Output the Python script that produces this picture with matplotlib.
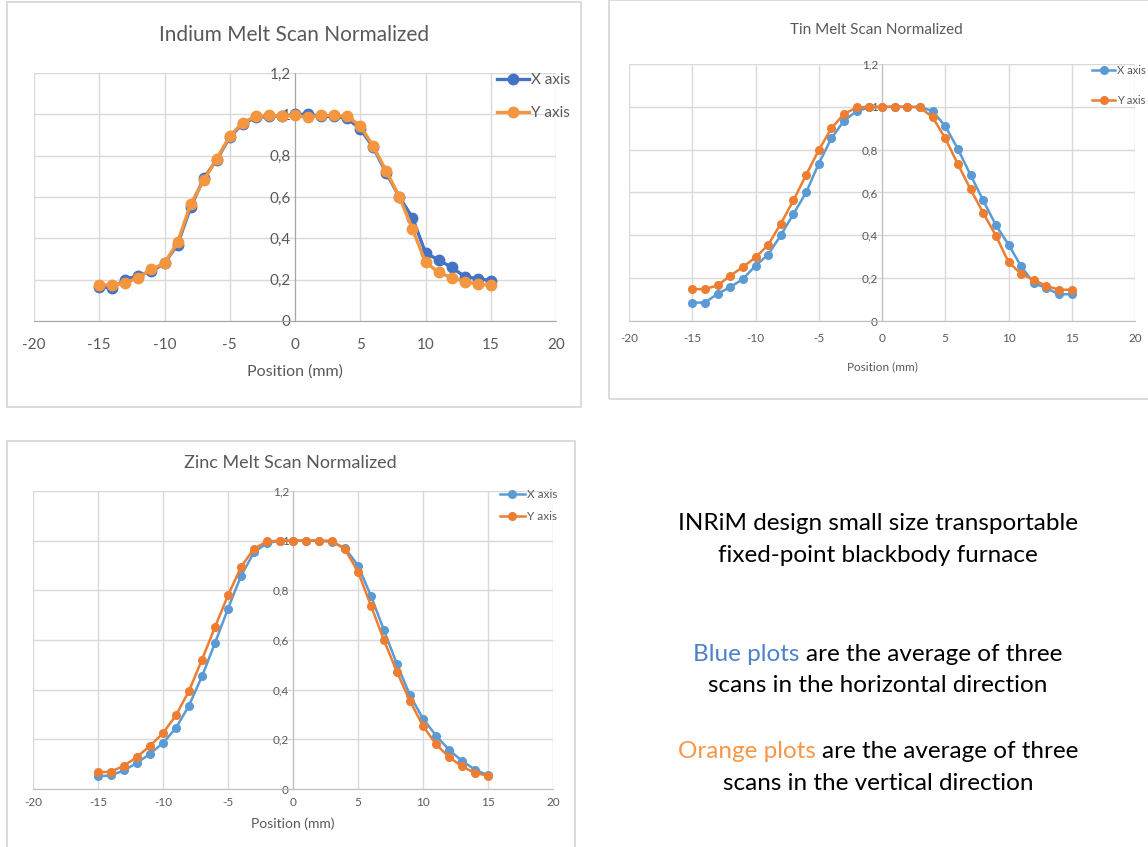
import matplotlib
matplotlib.use("Agg")
import matplotlib.pyplot as plt
from matplotlib.patches import Rectangle
from matplotlib.ticker import FuncFormatter

plt.rcParams['font.family'] = ['Lato', 'DejaVu Sans']
plt.rcParams['axes.unicode_minus'] = False

# scan positions (mm)
positions = list(range(-15, 16))

indium_x = [0.165, 0.16, 0.20, 0.22, 0.24, 0.28, 0.37, 0.55, 0.69, 0.78, 0.89, 0.955, 0.985, 0.99, 0.99,
            1.0, 1.0, 0.99, 0.99, 0.98, 0.93, 0.84, 0.715, 0.60, 0.50, 0.33, 0.295, 0.26, 0.215, 0.205, 0.195]
indium_y = [0.175, 0.173, 0.185, 0.21, 0.25, 0.28, 0.38, 0.565, 0.68, 0.785, 0.895, 0.96, 0.99, 0.995, 0.99,
            0.995, 0.985, 0.995, 0.995, 0.99, 0.945, 0.845, 0.725, 0.60, 0.445, 0.285, 0.235, 0.21, 0.19, 0.178, 0.173]

tin_x = [0.086, 0.086, 0.127, 0.158, 0.196, 0.258, 0.31, 0.40, 0.50, 0.60, 0.735, 0.853, 0.935, 0.98, 0.997,
         1.0, 1.0, 1.0, 1.0, 0.98, 0.91, 0.803, 0.682, 0.563, 0.448, 0.357, 0.255, 0.177, 0.153, 0.125, 0.125]
tin_y = [0.149, 0.149, 0.166, 0.211, 0.252, 0.297, 0.355, 0.455, 0.563, 0.682, 0.798, 0.90, 0.967, 0.997, 1.0,
         1.0, 1.0, 1.0, 0.997, 0.952, 0.853, 0.732, 0.615, 0.505, 0.399, 0.275, 0.22, 0.192, 0.164, 0.146, 0.146]

zinc_x = [0.051, 0.055, 0.075, 0.105, 0.142, 0.185, 0.246, 0.336, 0.454, 0.588, 0.726, 0.858, 0.953, 0.99, 1.0,
          1.0, 1.0, 1.0, 0.995, 0.97, 0.90, 0.777, 0.639, 0.502, 0.377, 0.283, 0.215, 0.158, 0.113, 0.078, 0.055]
zinc_y = [0.067, 0.07, 0.094, 0.129, 0.174, 0.225, 0.297, 0.395, 0.521, 0.652, 0.78, 0.894, 0.968, 0.997, 1.0,
          1.0, 1.0, 1.0, 1.0, 0.965, 0.875, 0.738, 0.599, 0.471, 0.354, 0.254, 0.18, 0.129, 0.091, 0.064, 0.054]

x_ticks = [-20, -15, -10, -5, 0, 5, 10, 15, 20]
y_ticks = [0, 0.2, 0.4, 0.6, 0.8, 1.0, 1.2]
series_labels = ['X axis', 'Y axis']

W, H = 1148, 847
fig = plt.figure(figsize=(W / 100, H / 100), dpi=100)
fig.patch.set_facecolor('white')

GRID = '#D9D9D9'
TXT = '#595959'


def px_axes(left, top, right, bottom):
    return fig.add_axes([left / W, 1 - bottom / H, (right - left) / W, (bottom - top) / H])


def frame(x0, y0, x1, y1):
    fig.patches.append(Rectangle((x0 / W, 1 - y1 / H), (x1 - x0) / W, (y1 - y0) / H,
                                 transform=fig.transFigure, fill=False, edgecolor='#D9D9D9', lw=1.3))


def melt_chart(box, area, title, title_pos, title_size, xs, ys, colors, lw, ms, tick_size, xpad,
               xlabel_y, xlabel_size, leg_left, leg_cy, leg_size, leg_spacing, axis_col):
    frame(*box)
    ax = px_axes(*area)
    ax.plot(positions, xs, '-o', color=colors[0], lw=lw, ms=ms, label=series_labels[0], zorder=3)
    ax.plot(positions, ys, '-o', color=colors[1], lw=lw, ms=ms, label=series_labels[1], zorder=3)
    ax.set_xlim(-20, 20)
    ax.set_ylim(0, 1.2)
    ax.set_xticks(x_ticks)
    ax.set_yticks(y_ticks)
    ax.yaxis.set_major_formatter(FuncFormatter(lambda v, p: f"{v:g}".replace('.', ',')))
    ax.grid(True, color=GRID, lw=1.0)
    ax.set_axisbelow(True)
    for s in ['top', 'right']:
        ax.spines[s].set_visible(False)
    ax.spines['left'].set_position(('data', 0))
    ax.spines['left'].set_color(axis_col)
    ax.spines['bottom'].set_color(axis_col)
    ax.tick_params(axis='both', length=0, labelsize=tick_size, labelcolor=TXT)
    ax.tick_params(axis='x', pad=xpad)
    ax.tick_params(axis='y', pad=3)
    ax.set_facecolor('none')
    ax.text(0.5, xlabel_y, 'Position (mm)', transform=ax.transAxes, ha='center', va='center',
            fontsize=xlabel_size, color=TXT)
    fig.text(title_pos[0] / W, 1 - title_pos[1] / H, title, ha='center', va='center',
             fontsize=title_size, color=TXT)
    ax.legend(loc='center left', bbox_to_anchor=(leg_left / W, 1 - leg_cy / H),
              bbox_transform=fig.transFigure, frameon=False, fontsize=leg_size,
              labelcolor=TXT, handlelength=2.1, handletextpad=0.15, borderpad=0,
              borderaxespad=0, labelspacing=leg_spacing)
    return ax


melt_chart((7, 2, 581, 407), (34, 73, 556, 321), 'Indium Melt Scan Normalized', (294, 35), 15,
           indium_x, indium_y, ('#4472C4', '#F4953F'), 2.4, 7.5, 11, 12, -0.205, 11.5,
           497, 96.5, 11, 1.25, '#A6A6A6')

melt_chart((609, 0, 1152, 399), (629, 64, 1135, 321), 'Tin Melt Scan Normalized', (876, 30), 11,
           tin_x, tin_y, ('#5B9BD5', '#ED7D31'), 1.8, 5.5, 8.5, 8.5, -0.18, 8.5,
           1092, 85.5, 8, 1.7, '#BFBFBF')

melt_chart((7, 441, 575, 850), (33, 491, 553, 789), 'Zinc Melt Scan Normalized', (290, 463), 13,
           zinc_x, zinc_y, ('#5B9BD5', '#ED7D31'), 1.8, 5.5, 8.5, 5.5, -0.115, 10,
           500, 505.5, 8.5, 0.9, '#BFBFBF')

# explanatory note on the right
cx = 878
note_size = 17.5
fig.text(cx / W, 1 - 523 / H, 'INRiM design small size transportable', ha='center', va='center',
         fontsize=note_size, color='black')
fig.text(cx / W, 1 - 556 / H, 'fixed-point blackbody furnace', ha='center', va='center',
         fontsize=note_size, color='black')

renderer = fig.canvas.get_renderer()


def two_color_line(y, head, tail, head_color):
    full = fig.text(cx / W, 1 - y / H, head + ' ' + tail, ha='center', va='center', fontsize=note_size)
    bb = full.get_window_extent(renderer)
    full.remove()
    fig.text(bb.x0 / W, 1 - y / H, head, ha='left', va='center', fontsize=note_size, color=head_color)
    fig.text(bb.x1 / W, 1 - y / H, tail, ha='right', va='center', fontsize=note_size, color='black')


two_color_line(654, 'Blue plots', 'are the average of three', '#4F81C8')
fig.text(cx / W, 1 - 686 / H, 'scans in the horizontal direction', ha='center', va='center',
         fontsize=note_size, color='black')
two_color_line(751, 'Orange plots', 'are the average of three', '#F79646')
fig.text(cx / W, 1 - 783 / H, 'scans in the vertical direction', ha='center', va='center',
         fontsize=note_size, color='black')

fig.savefig('out.png', dpi=100, facecolor='white')
